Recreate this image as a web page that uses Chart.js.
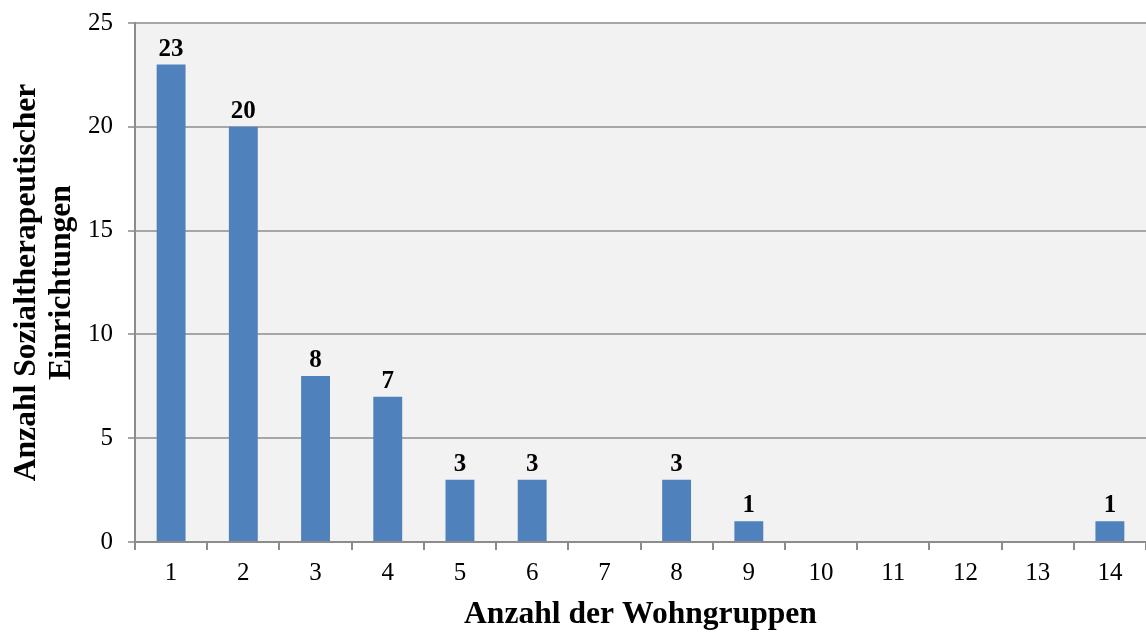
<!DOCTYPE html>
<html>
<head>
<meta charset="utf-8">
<script src="https://cdn.jsdelivr.net/npm/chart.js@4/dist/chart.umd.min.js"></script>
<style>
  html, body { margin: 0; padding: 0; background: #ffffff; }
  #wrap { width: 1146px; height: 632px; position: relative; }
</style>
</head>
<body>
<div id="wrap"><canvas id="c" width="1146" height="632"></canvas></div>
<script>
const categories = ['1','2','3','4','5','6','7','8','9','10','11','12','13','14'];
const counts = [23, 20, 8, 7, 3, 3, 0, 3, 1, 0, 0, 0, 0, 1];
const yTickValues = [0, 5, 10, 15, 20, 25];
const xTitle = 'Anzahl der Wohngruppen';
const yTitle = ['Anzahl Sozialtherapeutischer', 'Einrichtungen'];

const FONT = '"Liberation Serif", "Times New Roman", Times, serif';

const plotBg = {
  id: 'plotBg',
  beforeDraw(chart) {
    const {ctx, chartArea: a} = chart;
    ctx.save();
    ctx.fillStyle = '#f2f2f2';
    ctx.fillRect(a.left, a.top, a.right - a.left, a.bottom - a.top);
    ctx.restore();
  }
};

const valueLabels = {
  id: 'valueLabels',
  afterDatasetsDraw(chart) {
    const {ctx} = chart;
    const meta = chart.getDatasetMeta(0);
    const data = chart.data.datasets[0].data;
    ctx.save();
    ctx.font = 'bold 25px ' + FONT;
    ctx.fillStyle = '#000000';
    ctx.textAlign = 'center';
    ctx.textBaseline = 'alphabetic';
    meta.data.forEach((el, i) => {
      const v = data[i];
      if (!v) return;
      ctx.fillText(String(v), el.x, el.y - 9);
    });
    ctx.restore();
  }
};

new Chart(document.getElementById('c'), {
  type: 'bar',
  data: {
    labels: categories,
    datasets: [{
      data: counts,
      backgroundColor: '#4f81bd',
      borderWidth: 0,
      barPercentage: 0.4,
      categoryPercentage: 1.0
    }]
  },
  options: {
    responsive: false,
    animation: false,
    devicePixelRatio: 1,
    layout: { padding: { top: 23, right: 0, bottom: 0, left: 0 } },
    plugins: {
      legend: { display: false },
      tooltip: { enabled: false }
    },
    scales: {
      x: {
        grid: {
          display: true,
          drawOnChartArea: false,
          drawTicks: true,
          tickLength: 8,
          color: '#8c8c8c',
          lineWidth: 2,
          offset: true
        },
        border: { display: true, color: '#8c8c8c', width: 2 },
        ticks: {
          color: '#000000',
          padding: 8,
          font: { family: FONT, size: 25 },
          maxRotation: 0,
          autoSkip: false
        },
        title: {
          display: true,
          text: xTitle,
          color: '#000000',
          font: { family: FONT, size: 31.6, weight: 'bold', lineHeight: 1.11 },
          padding: { top: 0, bottom: 0 }
        },
        afterFit(scale) { scale.height = 90; }
      },
      y: {
        min: 0,
        max: 25,
        afterBuildTicks(scale) {
          scale.ticks = yTickValues.map(v => ({ value: v }));
        },
        grid: {
          color: '#a6a6a6',
          lineWidth: 2,
          drawTicks: true,
          tickLength: 7
        },
        border: { display: true, color: '#8c8c8c', width: 2 },
        ticks: {
          color: '#000000',
          padding: 15,
          font: { family: FONT, size: 25, lineHeight: 0.6 }
        },
        title: {
          display: true,
          text: yTitle,
          color: '#000000',
          font: { family: FONT, size: 31.6, weight: 'bold', lineHeight: 1.11 },
          padding: { top: 9, bottom: 0 }
        },
        afterFit(scale) { scale.width = 135; }
      }
    }
  },
  plugins: [plotBg, valueLabels]
});
</script>
</body>
</html>
